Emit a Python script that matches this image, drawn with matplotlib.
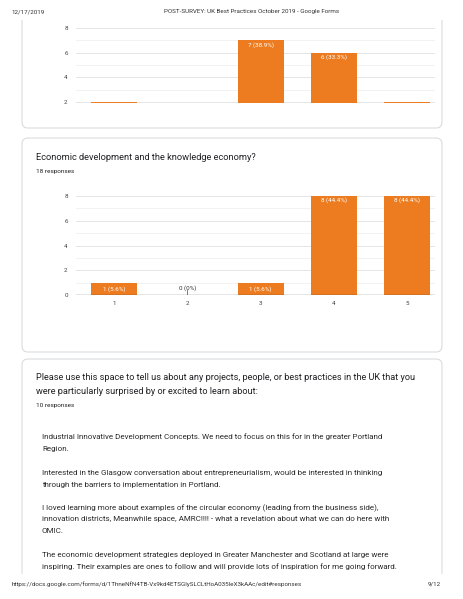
import matplotlib.pyplot as plt
from matplotlib.patches import FancyBboxPatch, Rectangle

plt.rcParams["font.family"] = ["Roboto", "DejaVu Sans"]

# data
categories = [1, 2, 3, 4, 5]
prev_counts = [2, 1, 7, 6, 2]       # chart cut off at top of page
prev_labels = ["2 (11.1%)", "1 (5.6%)", "7 (38.9%)", "6 (33.3%)", "2 (11.1%)"]
econ_counts = [1, 0, 1, 8, 8]
econ_labels = ["1 (5.6%)", "0 (0%)", "1 (5.6%)", "8 (44.4%)", "8 (44.4%)"]

header_date = "12/17/2019"
header_title = "POST-SURVEY: UK Best Practices October 2019 - Google Forms"
footer_url = "https://docs.google.com/forms/d/1ThneNfN4TB-Vx9kd4ETSGlySLCLtHoA035IeX3kAAc/edit#responses"
footer_page = "9/12"

q_econ = "Economic development and the knowledge economy?"
q_econ_n = "18 responses"
q_text = ["Please use this space to tell us about any projects, people, or best practices in the UK that you",
          "were particularly surprised by or excited to learn about:"]
q_text_n = "10 responses"
answers = [
    ["Industrial Innovative Development Concepts. We need to focus on this for in the greater Portland",
     "Region."],
    ["Interested in the Glasgow conversation about entrepreneurialism, would be interested in thinking",
     "through the barriers to implementation in Portland."],
    ["I loved learning more about examples of the circular economy (leading from the business side),",
     "innovation districts, Meanwhile space, AMRC!!!! - what a revelation about what we can do here with",
     "OMIC."],
    ["The economic development strategies deployed in Greater Manchester and Scotland at large were",
     "inspiring. Their examples are ones to follow and will provide lots of inspiration for me going forward."],
]

ORANGE = "#ec7c1f"
W, H = 463, 599

fig = plt.figure(figsize=(W / 100, H / 100), dpi=100)
page = fig.add_axes([0, 0, 1, 1])
page.set_xlim(0, W)
page.set_ylim(H, 0)
page.axis("off")


def card(y0, y1, clip_top, clip_bot):
    p = FancyBboxPatch((22, y0), 420, y1 - y0, boxstyle="round,pad=0,rounding_size=6",
                       fc="white", ec="#dadce0", lw=0.8, zorder=1)
    page.add_patch(p)
    clip = Rectangle((0, clip_top), W, clip_bot - clip_top, transform=page.transData)
    p.set_clip_path(clip)


card(-20, 128, 20, 140)
card(138, 352, 0, H)
card(359, 700, 0, 574)

# header / footer
page.text(12, 12, header_date, fontsize=4.5, color="#333333", va="center")
page.text(252, 12, header_title, fontsize=4.5, color="#333333", va="center", ha="center")
page.text(12, 584, footer_url, fontsize=4.5, color="#333333", va="center")
page.text(441, 584, footer_page, fontsize=4.5, color="#333333", va="center", ha="right")

# card 2 texts
page.text(36, 157, q_econ, fontsize=6.65, color="#202124", va="center")
page.text(36, 172, q_econ_n, fontsize=4.6, color="#202124", va="center")

# card 3 texts
page.text(36, 377, q_text[0], fontsize=6.6, color="#202124", va="center")
page.text(36, 391, q_text[1], fontsize=6.6, color="#202124", va="center")
page.text(36, 406, q_text_n, fontsize=4.6, color="#202124", va="center")
starts = [437, 473, 508, 555]
for y, lines in zip(starts, answers):
    for i, line in enumerate(lines):
        page.text(42, y + i * 11.5, line, fontsize=5.75, color="#2a2a2a", va="center")


def bar_chart(top_px, bot_px, ymin, counts, labels, show_x):
    ax = fig.add_axes([76 / W, 1 - bot_px / H, (435 - 76) / W, (bot_px - top_px) / H])
    ax.set_xlim(0.48, 5.38)
    ax.set_ylim(ymin, 8)
    for v in range(0, 9):
        ax.axhline(v, color="#e0e0e0" if v % 2 == 0 else "#f0f0f0", lw=0.6, zorder=0)
    ax.bar(categories, counts, width=0.63, color=ORANGE, zorder=2)
    for x, c, lab in zip(categories, counts, labels):
        if c == 0:
            ax.text(x, 0.55, lab, fontsize=4.5, color="#333333", ha="center", va="center")
            ax.plot([x, x], [0, 0.4], color="#666666", lw=0.6)
        elif c == 1:
            ax.text(x, c / 2, lab, fontsize=4.5, color="white", ha="center", va="center", zorder=3)
        else:
            ax.text(x, c - 0.35, lab, fontsize=4.5, color="white", ha="center", va="center",
                    zorder=3, clip_on=True)
    for s in ax.spines.values():
        s.set_visible(False)
    ax.set_yticks([v for v in (0, 2, 4, 6, 8) if v >= ymin - 0.1])
    ax.tick_params(axis="y", length=0, labelsize=4.5, labelcolor="#444444", pad=6)
    if show_x:
        ax.axhline(0, color="#333333", lw=0.9, zorder=3)
        ax.set_xticks(categories)
        ax.tick_params(axis="x", length=0, labelsize=4.5, labelcolor="#444444", pad=4)
    else:
        ax.set_xticks([])
    ax.patch.set_alpha(0)
    return ax


bar_chart(28, 103, 1.91, prev_counts, prev_labels, False)
bar_chart(196, 295, 0, econ_counts, econ_labels, True)

fig.savefig("out.png", dpi=100)
